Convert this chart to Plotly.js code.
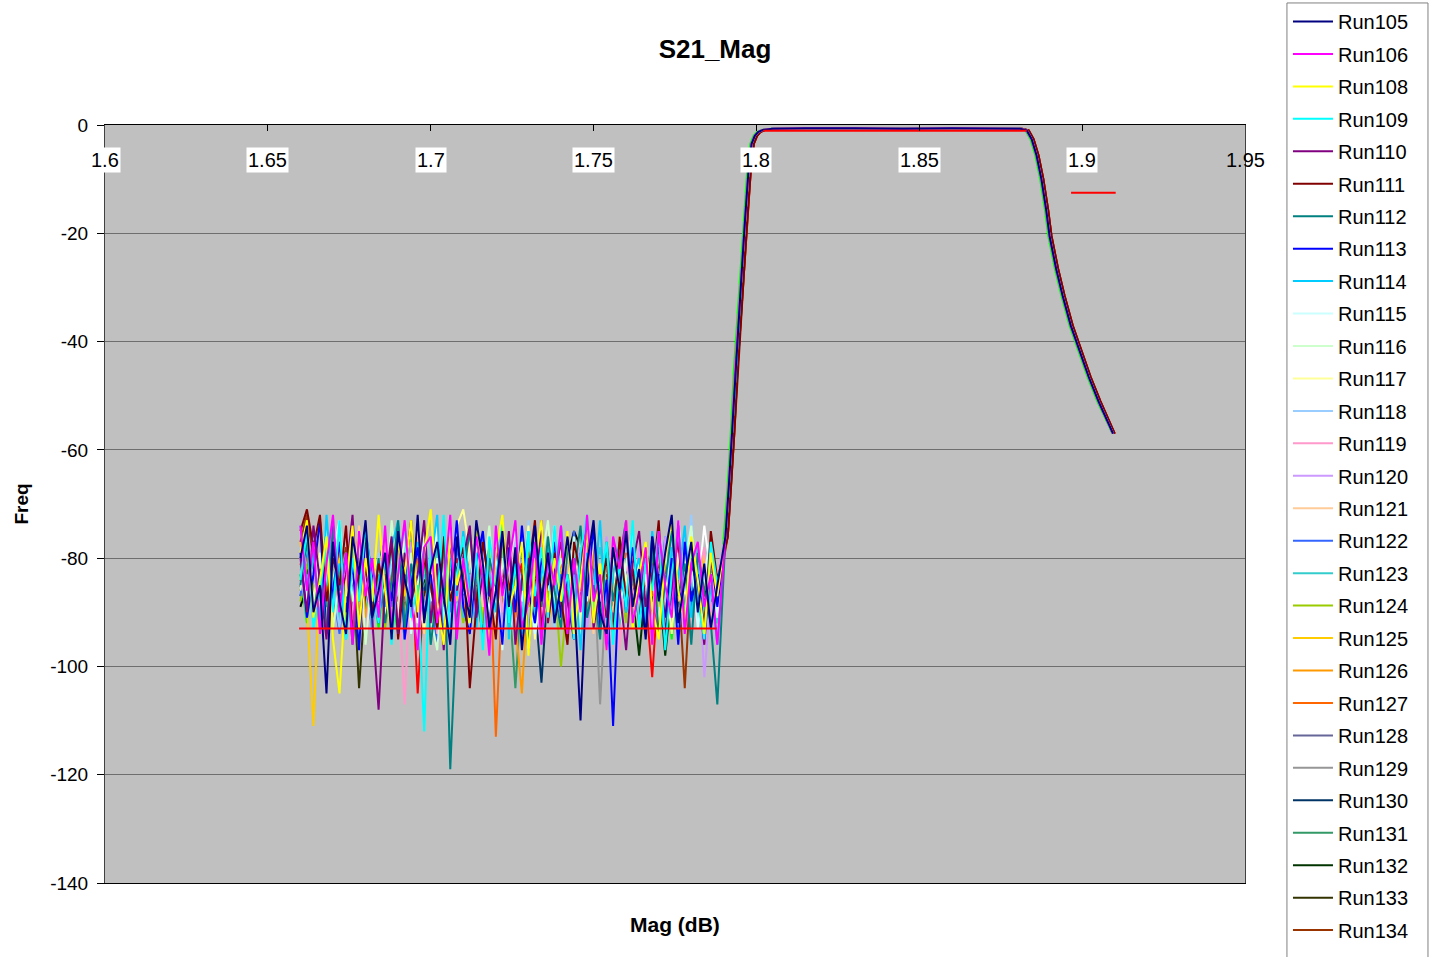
<!DOCTYPE html>
<html>
<head>
<meta charset="utf-8">
<script src="https://cdn.plot.ly/plotly-3.0.1.min.js"></script>
<style>
  html, body { margin: 0; padding: 0; background: #ffffff; }
  #chart { width: 1430px; height: 957px; }
</style>
</head>
<body>
<div id="chart"></div>
<script>
// ---------------- DATA ----------------
const NOISE_F = [1.660,1.662,1.664,1.666,1.668,1.670,1.672,1.674,1.676,1.678,1.680,1.682,1.684,
                 1.686,1.688,1.690,1.692,1.694,1.696,1.698,1.700,1.702,1.704,1.706,1.708,1.710,
                 1.712,1.714,1.716,1.718,1.720,1.722,1.724,1.726,1.728,1.730,1.732,1.734,1.736,
                 1.738,1.740,1.742,1.744,1.746,1.748,1.750,1.752,1.754,1.756,1.758,1.760,1.762,
                 1.764,1.766,1.768,1.770,1.772,1.774,1.776,1.778,1.780,1.782,1.784,1.786,1.788];

const RESP_F_A = [1.7905,1.7915,1.7925,1.7935,1.7945,1.7955,1.7965,1.7975,1.7985,1.7995,1.8005,
                  1.8020,1.8050,1.8150,1.8300,1.8450,1.8600,1.8750,1.8810,1.8830,1.8845,1.8860,
                  1.8875,1.8890,1.8900,1.8920,1.8940,1.8965,1.8990,1.9020,1.9050,1.9095];
const RESP_F_B = [1.7912,1.7922,1.7932,1.7942,1.7952,1.7962,1.7972,1.7982,1.7992,1.8002,1.8012,
                  1.8027,1.8057,1.8150,1.8300,1.8450,1.8600,1.8750,1.8815,1.8836,1.8851,1.8866,
                  1.8881,1.8896,1.8906,1.8926,1.8946,1.8971,1.8996,1.9026,1.9056,1.9100];
const RESP_F_C = [1.7901,1.7911,1.7921,1.7931,1.7941,1.7951,1.7961,1.7971,1.7981,1.7991,1.8001,
                  1.8016,1.8046,1.8150,1.8300,1.8450,1.8600,1.8750,1.8806,1.8826,1.8841,1.8856,
                  1.8871,1.8886,1.8896,1.8916,1.8936,1.8961,1.8986,1.9016,1.9046,1.9093];
const RESP_DB  = [-76,-67,-57,-45,-36,-27,-17.5,-9,-3.5,-2,-1.3,
                  -0.9,-0.7,-0.6,-0.6,-0.7,-0.6,-0.6,-0.7,-1.0,-2.6,-5.6,
                  -10,-15.8,-20.5,-26.5,-31.5,-37,-41.5,-46.5,-51,-57];

const MASK_F  = [1.6596,1.7878,null,1.8021,1.8830,null,1.8966,1.9103];
const MASK_DB = [-93,-93,null,-1.05,-1.05,null,-12.5,-12.5];

const RUN105 = [-80,-74,-90,-85,-105,-77,-88,-94,-76,-83,-73,-91,-86, -79,-95,-75,-84,-89,-72,-92,-82,-77,-87,-96,-76,-85, -91,-73,-81,-93,-86,-75,-89,-78,-97,-84,-74,-88,-79, -92,-85,-76,-87,-110,-81,-73,-90,-94,-78,-86,-75,-89, -82,-95,-76,-88,-79,-72,-92,-84,-77,-90,-81,-93,-85];
const RUN106 = [-74,-86,-77,-94,-81,-72,-90,-79,-96,-75,-87,-80,-91, -74,-93,-83,-73,-88,-97,-78,-76,-92,-85,-72,-95,-80, -89,-76,-84,-98,-74,-87,-81,-73,-93,-88,-77,-96,-79, -85,-74,-94,-80,-90,-72,-88,-83,-97,-76,-82,-73,-92, -86,-78,-96,-75,-85,-91,-73,-94,-81,-77,-89,-83,-96];
const RUN108 = [-79,-73,-91,-84,-76,-95,-105,-85,-74,-93,-80,-88,-72, -86,-94,-77,-83,-73,-90,-79,-71,-88,-96,-76,-85,-80, -92,-74,-83,-95,-79,-72,-89,-85,-77,-98,-81,-73,-90, -80,-88,-75,-94,-84,-74,-92,-81,-97,-78,-86,-73,-93, -83,-77,-89,-95,-80,-73,-86,-92,-76,-84,-94,-79,-87];
const RUN109 = [-84,-75,-93,-86,-77,-90,-73,-95,-80,-88,-74,-85,-92, -79,-96,-82,-74,-91,-85,-112,-77,-88,-72,-94,-83,-76, -90,-79,-97,-76,-85,-73,-92,-81,-94,-75,-87,-78,-91, -74,-88,-83,-95,-79,-72,-90,-85,-77,-96,-81,-89,-73, -93,-80,-86,-75,-97,-83,-74,-91,-78,-88,-95,-77,-85];
const RUN110 = [-80,-90,-74,-85,-95,-77,-88,-83,-72,-93,-81,-91,-108, -85,-76,-94,-79,-88,-83,-73,-92,-81,-97,-77,-86,-80, -74,-91,-83,-93,-78,-86,-75,-96,-84,-80,-89,-73,-92, -83,-77,-88,-95,-80,-74,-93,-85,-91,-78,-86,-97,-81, -75,-89,-83,-78,-94,-86,-74,-92,-81,-85,-96,-80,-87];
const RUN111 = [-75,-71,-78,-72,-88,-80,-85,-74,-94,-82,-76,-91,-81, -86,-77,-95,-83,-73,-91,-80,-85,-93,-76,-88,-82,-78, -104,-89,-77,-85,-95,-74,-86,-80,-92,-83,-73,-93,-84, -79,-88,-96,-77,-83,-74,-91,-86,-80,-94,-76,-88,-82, -92,-78,-85,-73,-95,-83,-77,-90,-80,-86,-93,-75,-84];
const RUN112 = [-85,-77,-91,-82,-94,-74,-86,-79,-96,-83,-75,-90,-80, -92,-84,-73,-93,-81,-88,-78,-96,-86,-76,-119,-91,-83, -75,-87,-94,-80,-85,-74,-92,-83,-78,-97,-81,-89,-76, -86,-93,-78,-83,-74,-91,-85,-95,-77,-88,-80,-73,-92, -83,-89,-78,-94,-85,-75,-87,-81,-96,-79,-86,-92,-107];
const RUN113 = [-79,-91,-83,-73,-94,-86,-77,-90,-81,-97,-75,-84,-92, -80,-88,-74,-95,-85,-78,-91,-83,-93,-76,-86,-73,-89, -94,-81,-75,-87,-84,-96,-78,-90,-74,-86,-92,-80,-85, -77,-91,-83,-95,-79,-87,-74,-93,-84,-111,-81,-89,-78, -86,-94,-76,-84,-91,-80,-96,-77,-88,-83,-93,-79,-89];
const RUN114 = [-74,-85,-79,-92,-72,-87,-81,-95,-77,-86,-75,-93,-83, -89,-78,-73,-94,-84,-77,-91,-81,-72,-96,-80,-87,-75, -85,-93,-77,-83,-90,-73,-95,-80,-86,-75,-92,-83,-78, -91,-74,-86,-81,-97,-79,-87,-73,-93,-83,-77,-90,-84, -80,-92,-75,-86,-95,-78,-84,-74,-91,-81,-94,-85,-96];
const RUN115 = [-80,-88,-75,-85,-93,-79,-73,-90,-83,-95,-77,-86,-81, -91,-78,-85,-74,-94,-83,-77,-88,-80,-92,-73,-86,-81, -93,-77,-83,-90,-79,-97,-81,-75,-88,-84,-94,-78,-86, -74,-91,-83,-93,-80,-88,-76,-85,-95,-79,-90,-81,-75, -88,-83,-94,-77,-85,-91,-73,-86,-80,-93,-83,-76,-90];
const RUN116 = [-86,-77,-91,-81,-74,-93,-84,-79,-88,-75,-96,-83,-80, -89,-73,-85,-94,-79,-86,-76,-91,-97,-81,-88,-75,-84, -79,-92,-83,-74,-90,-80,-95,-86,-77,-85,-93,-81,-73, -88,-80,-85,-76,-94,-83,-74,-91,-86,-79,-89,-96,-81, -75,-88,-83,-92,-79,-86,-94,-81,-74,-90,-84,-78,-91];
const RUN117 = [-84,-76,-88,-79,-92,-85,-74,-87,-80,-94,-77,-90,-82, -86,-79,-91,-75,-85,-73,-93,-81,-88,-77,-84,-74,-71, -79,-88,-83,-94,-76,-85,-91,-80,-87,-74,-95,-83,-78, -90,-77,-85,-81,-92,-74,-87,-93,-80,-88,-76,-84,-91, -81,-89,-77,-86,-83,-94,-79,-88,-75,-85,-92,-80,-86];
const RUN118 = [-78,-87,-82,-91,-74,-85,-93,-80,-88,-83,-73,-92,-79, -88,-81,-94,-77,-86,-91,-75,-85,-80,-96,-78,-90,-83, -74,-88,-81,-92,-79,-85,-94,-77,-87,-73,-91,-83,-80, -93,-85,-77,-90,-81,-87,-75,-95,-79,-88,-83,-74,-91, -80,-92,-84,-78,-88,-75,-94,-83,-72,-90,-81,-86,-91];
const RUN119 = [-82,-90,-76,-86,-93,-79,-85,-74,-91,-83,-95,-80,-88, -77,-92,-85,-107,-81,-75,-90,-83,-94,-78,-86,-91,-80, -88,-78,-85,-95,-76,-90,-83,-74,-93,-86,-80,-91,-84, -75,-88,-81,-94,-84,-78,-92,-83,-90,-76,-97,-81,-86, -91,-80,-86,-76,-93,-83,-88,-75,-95,-84,-78,-90,-83];
const RUN120 = [-85,-77,-90,-81,-93,-75,-86,-80,-91,-83,-74,-94,-84, -78,-88,-83,-95,-77,-86,-91,-80,-85,-74,-93,-81,-89, -83,-92,-78,-86,-75,-94,-84,-81,-90,-76,-88,-96,-80, -86,-75,-91,-83,-78,-93,-84,-88,-76,-95,-81,-86,-91, -78,-89,-83,-93,-76,-86,-81,-91,-84,-79,-102,-87,-83];
const RUN121 = [-80,-86,-75,-91,-83,-77,-88,-81,-93,-74,-85,-90,-79, -88,-80,-92,-83,-74,-86,-94,-78,-84,-91,-76,-83,-88, -81,-75,-89,-84,-93,-80,-86,-77,-95,-83,-88,-79,-91, -84,-92,-78,-87,-75,-83,-94,-81,-86,-90,-76,-84,-80, -89,-83,-93,-78,-86,-75,-91,-84,-80,-88,-81,-92,-84];
const RUN122 = [-87,-78,-91,-83,-74,-86,-94,-81,-89,-76,-85,-93,-80, -77,-89,-84,-95,-80,-87,-75,-86,-96,-83,-90,-78,-85, -81,-88,-76,-93,-84,-80,-91,-83,-86,-97,-79,-89,-83, -91,-83,-86,-75,-94,-81,-88,-84,-78,-92,-83,-90,-80, -86,-93,-81,-87,-76,-91,-84,-80,-89,-83,-94,-78,-86];
const RUN123 = [-83,-91,-78,-87,-85,-74,-92,-81,-86,-94,-77,-84,-90, -87,-80,-84,-93,-75,-89,-83,-86,-78,-92,-84,-81,-91, -89,-77,-86,-83,-93,-75,-87,-80,-91,-84,-77,-95,-83, -86,-92,-81,-87,-75,-91,-84,-78,-86,-83,-93,-80,-89, -83,-91,-79,-87,-76,-84,-94,-81,-86,-78,-90,-84,-92];
const RUN124 = [-88,-81,-85,-93,-78,-87,-83,-92,-76,-84,-80,-91,-85, -93,-84,-87,-77,-89,-81,-94,-78,-86,-91,-80,-84,-92, -87,-82,-92,-78,-89,-84,-95,-81,-86,-77,-91,-83,-87, -84,-100,-87,-80,-91,-83,-85,-93,-78,-89,-84,-92,-81, -87,-79,-91,-84,-93,-81,-87,-78,-90,-85,-82,-92,-84];
const RUN125 = [-77,-89,-111,-83,-75,-88,-80,-93,-78,-86,-73,-91,-81, -84,-92,-78,-87,-83,-75,-94,-81,-90,-84,-76,-88,-80, -86,-78,-91,-83,-87,-76,-93,-81,-86,-89,-78,-84,-92, -87,-83,-76,-91,-84,-80,-89,-86,-78,-93,-83,-87,-81, -90,-84,-78,-89,-83,-87,-76,-92,-81,-86,-79,-91,-85];
const RUN126 = [-84,-77,-89,-81,-86,-93,-78,-87,-83,-75,-91,-84,-80, -81,-88,-76,-86,-92,-83,-79,-90,-84,-76,-88,-81,-91, -80,-86,-83,-90,-78,-87,-81,-92,-105,-84,-89,-79,-86, -91,-78,-86,-83,-89,-76,-87,-81,-92,-84,-79,-89,-83, -86,-80,-91,-78,-87,-84,-76,-90,-83,-86,-79,-91,-87];
const RUN127 = [-86,-79,-91,-83,-87,-76,-89,-84,-80,-92,-78,-87,-83, -88,-83,-78,-90,-86,-80,-91,-79,-84,-93,-77,-87,-83, -80,-89,-84,-78,-113,-86,-81,-91,-84,-78,-87,-92,-81, -84,-90,-79,-86,-83,-91,-78,-87,-81,-85,-93,-79,-84, -89,-83,-87,-79,-85,-91,-81,-84,-77,-89,-83,-86,-84];
const RUN128 = [-87,-83,-89,-81,-85,-88,-82,-86,-84,-80,-87,-83,-90, -84,-86,-81,-88,-84,-82,-89,-85,-80,-87,-83,-86,-82, -86,-84,-88,-82,-85,-81,-87,-83,-89,-85,-82,-88,-84, -83,-87,-81,-86,-84,-89,-82,-85,-80,-88,-84,-86,-83, -88,-84,-81,-86,-83,-87,-85,-82,-89,-84,-86,-83,-87];
const RUN129 = [-82,-86,-80,-84,-88,-81,-85,-83,-87,-79,-85,-89,-82, -81,-87,-84,-80,-86,-82,-89,-83,-85,-81,-88,-84,-86, -84,-80,-87,-83,-85,-82,-88,-81,-86,-84,-80,-87,-83, -87,-82,-85,-81,-88,-84,-80,-107,-85,-82,-86,-83,-88, -81,-86,-84,-88,-80,-85,-83,-87,-82,-89,-84,-81,-86];
const RUN130 = [-86,-83,-88,-84,-81,-87,-85,-82,-89,-84,-86,-83,-88, -83,-87,-85,-81,-88,-84,-86,-82,-87,-85,-83,-89,-84, -88,-84,-86,-82,-89,-85,-83,-87,-84,-81,-88,-103,-85, -82,-87,-84,-88,-83,-86,-81,-89,-85,-83,-87,-84,-86, -84,-88,-82,-86,-85,-83,-89,-84,-87,-82,-86,-85,-88];
const RUN131 = [-83,-87,-81,-85,-89,-82,-86,-84,-80,-88,-83,-85,-87, -86,-82,-87,-84,-81,-88,-85,-83,-89,-82,-86,-84,-80, -85,-88,-83,-86,-84,-81,-87,-104,-85,-82,-88,-84,-86, -83,-86,-89,-82,-85,-87,-81,-88,-84,-86,-83,-85,-88, -82,-87,-84,-86,-81,-88,-85,-83,-87,-84,-86,-82,-85];
const RUN132 = [-85,-89,-83,-87,-84,-88,-82,-86,-90,-84,-87,-83,-86, -83,-88,-85,-89,-82,-87,-84,-86,-90,-83,-88,-85,-87, -85,-87,-82,-89,-84,-86,-88,-83,-87,-85,-89,-84,-86, -84,-88,-83,-86,-89,-85,-82,-87,-84,-88,-86,-83,-87, -98,-85,-88,-84,-98,-86,-83,-87,-85,-89,-84,-86,-88];
const RUN133 = [-86,-82,-88,-84,-87,-83,-89,-85,-81,-104,-86,-84,-88, -84,-88,-86,-83,-89,-85,-87,-82,-88,-86,-84,-89,-85, -87,-85,-89,-83,-86,-88,-84,-87,-85,-89,-83,-86,-88, -86,-88,-84,-87,-85,-89,-83,-86,-88,-84,-87,-85,-89, -85,-87,-84,-88,-86,-83,-89,-85,-87,-84,-88,-86,-87];
const RUN134 = [-77,-72,-80,-85,-79,-87,-83,-78,-86,-84,-81,-88,-82, -87,-82,-85,-80,-88,-84,-81,-86,-83,-89,-82,-85,-80, -85,-81,-87,-83,-86,-80,-88,-84,-82,-87,-85,-81,-86, -83,-88,-81,-86,-84,-89,-82,-85,-83,-87,-80,-86,-84, -88,-83,-86,-81,-85,-87,-84,-104,-82,-86,-83,-85,-87];
// further runs whose legend entries are cut off in the reference
const RUN_X1 = [-84,-88,-81,-86,-83,-89,-85,-82,-87,-84,-80,-88,-85, -88,-83,-86,-81,-87,-84,-89,-82,-85,-87,-83,-86,-84, -86,-81,-88,-84,-87,-83,-85,-89,-82,-86,-84,-88,-85, -87,-82,-85,-89,-83,-86,-81,-88,-84,-85,-87,-83,-86, -85,-88,-83,-86,-82,-87,-84,-89,-85,-83,-86,-88,-84];
const RUN_X2 = [-87,-83,-85,-89,-82,-86,-84,-88,-81,-85,-87,-84,-86, -84,-89,-82,-86,-88,-83,-85,-87,-81,-89,-84,-86,-83, -86,-83,-88,-85,-81,-87,-84,-89,-83,-86,-82,-88,-85, -88,-84,-86,-82,-87,-85,-89,-83,-86,-84,-88,-82,-86, -85,-89,-83,-87,-84,-86,-82,-88,-85,-83,-87,-84,-86];
const RUN_X3 = [-89,-85,-87,-83,-88,-86,-84,-90,-85,-87,-83,-88,-86, -88,-84,-86,-89,-83,-87,-85,-81,-88,-84,-86,-83,-87, -85,-88,-83,-86,-89,-84,-87,-82,-86,-88,-84,-87,-85, -83,-86,-80,-75,-78,-84,-88,-83,-86,-89,-84,-87,-85, -87,-84,-88,-83,-86,-85,-89,-84,-87,-83,-86,-88,-85];
const RUN_X4 = [-86,-78,-90,-83,-76,-88,-84,-93,-80,-86,-77,-91,-83, -89,-84,-76,-88,-81,-92,-78,-86,-74,-90,-83,-79,-88, -78,-88,-84,-76,-92,-81,-86,-83,-90,-77,-88,-84,-80, -84,-92,-79,-86,-76,-90,-83,-88,-78,-84,-93,-81,-86, -83,-90,-79,-86,-76,-88,-81,-92,-78,-86,-74,-83,-88];
const RUN_X5 = [-81,-85,-78,-87,-83,-79,-86,-82,-88,-84,-80,-86,-83, -86,-82,-88,-84,-79,-105,-85,-81,-87,-83,-86,-80,-84, -83,-86,-80,-87,-84,-82,-89,-85,-81,-87,-83,-85,-82, -85,-81,-88,-83,-86,-80,-87,-84,-82,-86,-83,-88,-84, -81,-87,-102,-84,-86,-82,-85,-83,-88,-81,-86,-84,-85];
const RUN_X6 = [-83,-92,-79,-89,-76,-85,-91,-82,-88,-78,-90,-84,-93, -81,-87,-94,-78,-85,-90,-80,-92,-84,-76,-88,-82,-91, -92,-80,-86,-82,-94,-77,-87,-84,-90,-79,-85,-93,-81, -77,-90,-84,-95,-81,-88,-79,-86,-93,-83,-90,-80,-87, -85,-92,-79,-88,-84,-95,-81,-90,-77,-85,-92,-83,-92];

const SERIES_NAMES = ['Run105','Run106','Run108','Run109','Run110','Run111','Run112','Run113','Run114','Run115',
                      'Run116','Run117','Run118','Run119','Run120','Run121','Run122','Run123','Run124','Run125',
                      'Run126','Run127','Run128','Run129','Run130','Run131','Run132','Run133','Run134'];
const SERIES_NOISE = [RUN105,RUN106,RUN108,RUN109,RUN110,RUN111,RUN112,RUN113,RUN114,RUN115,
                      RUN116,RUN117,RUN118,RUN119,RUN120,RUN121,RUN122,RUN123,RUN124,RUN125,
                      RUN126,RUN127,RUN128,RUN129,RUN130,RUN131,RUN132,RUN133,RUN134];
const EXTRA_NOISE = [RUN_X1,RUN_X2,RUN_X3,RUN_X4,RUN_X5,RUN_X6];

const XTICK_VALS = [1.6,1.65,1.7,1.75,1.8,1.85,1.9,1.95];
const XTICK_TEXT = ['1.6','1.65','1.7','1.75','1.8','1.85','1.9','1.95'];
const YTICK_VALS = [0,-20,-40,-60,-80,-100,-120,-140];
const YTICK_TEXT = ['0','-20','-40','-60','-80','-100','-120','-140'];

// ---------------- STYLE ----------------
const SERIES_COLORS = ['#000080','#FF00FF','#FFFF00','#00FFFF','#800080','#800000','#008080','#0000FF','#00CCFF','#CCFFFF',
                       '#CCFFCC','#FFFF99','#99CCFF','#FF99CC','#CC99FF','#FFCC99','#3366FF','#33CCCC','#99CC00','#FFCC00',
                       '#FF9900','#FF6600','#666699','#969696','#003366','#339966','#003300','#333300','#993300'];
const EXTRA_COLORS = ['#993366','#333399','#000000','#FFFFFF','#FF0000','#00FF00'];

const FONT = 'Liberation Sans, Arial, sans-serif';
const traces = [];
// later runs first (underneath), first runs last (on top), legend kept in run order
EXTRA_NOISE.forEach((arr, k) => {
  const col = EXTRA_COLORS[k];
  const rf = col === '#FF0000' ? RESP_F_B : (col === '#00FF00' ? RESP_F_C : RESP_F_A);
  traces.push({
    type: 'scatter', mode: 'lines', showlegend: false,
    x: NOISE_F.concat(rf), y: arr.concat(RESP_DB),
    line: {color: col, width: 2}
  });
});
for (let k = SERIES_NAMES.length - 1; k >= 0; k--) {
  const name = SERIES_NAMES[k];
  const rf = (name === 'Run111' || name === 'Run134') ? RESP_F_B : RESP_F_A;
  traces.push({
    type: 'scatter', mode: 'lines', name: name, legendgroup: name, legendrank: k + 1,
    x: NOISE_F.concat(rf), y: SERIES_NOISE[k].concat(RESP_DB),
    line: {color: SERIES_COLORS[k], width: 2}
  });
}
traces.push({
  type: 'scatter', mode: 'lines', showlegend: false,
  x: MASK_F, y: MASK_DB, line: {color: '#FF0000', width: 2}
});

const annotations = XTICK_VALS.map((v, i) => ({
  x: v, y: 0, xref: 'x', yref: 'y', text: XTICK_TEXT[i], showarrow: false,
  yanchor: 'top', xanchor: 'center', yshift: -22, borderpad: 1,
  bgcolor: i === XTICK_VALS.length - 1 ? 'rgba(0,0,0,0)' : '#ffffff',
  font: {family: FONT, size: 20, color: '#000000'}
}));
annotations.push({
  x: 0.5, y: -0.0554, xref: 'paper', yref: 'paper', text: '<b>Mag (dB)</b>', showarrow: false,
  xanchor: 'center', yanchor: 'middle', font: {family: FONT, size: 21, color: '#000000'}
});

const layout = {
  width: 1430, height: 957,
  margin: {l: 105, r: 185, t: 125, b: 74, autoexpand: false},
  paper_bgcolor: '#ffffff', plot_bgcolor: '#C0C0C0',
  font: {family: FONT, size: 20, color: '#000000'},
  title: {text: '<b>S21_Mag</b>', x: 0.5, xref: 'container', y: 1 - 49/957, yref: 'container',
          xanchor: 'center', yanchor: 'middle', font: {family: FONT, size: 26, color: '#000000'}},
  showlegend: true,
  legend: {
    x: 1.0377, y: 1.1623, xanchor: 'left', yanchor: 'top',
    bgcolor: 'rgba(0,0,0,0)', borderwidth: 0,
    font: {family: FONT, size: 20, color: '#000000'},
    tracegroupgap: 3.45, itemwidth: 40, traceorder: 'grouped', maxheight: 960
  },
  // legend frame (runs past the bottom of the page, as in the reference)
  shapes: [{
    type: 'rect', xref: 'paper', yref: 'paper', layer: 'below',
    x0: 1.0368, x1: 1.1605, y0: -0.12, y1: 1.1610,
    line: {color: '#808080', width: 1}, fillcolor: '#ffffff'
  }],
  xaxis: {
    range: [1.6, 1.95], side: 'top', showticklabels: false,
    tickvals: XTICK_VALS, ticks: 'inside', ticklen: 6, tickcolor: '#000000',
    showline: true, linecolor: '#000000', linewidth: 1, mirror: true,
    showgrid: false, zeroline: false
  },
  yaxis: {
    range: [-140, 0], tickvals: YTICK_VALS, ticktext: YTICK_TEXT,
    ticks: 'outside', ticklen: 7, tickcolor: '#000000', ticklabelstandoff: 5,
    tickfont: {family: FONT, size: 19, color: '#000000'},
    showline: true, linecolor: '#404040', linewidth: 1, mirror: true,
    showgrid: true, gridcolor: '#6E6E6E', gridwidth: 1, zeroline: false,
    title: {text: '<b>Freq</b>', standoff: 16, font: {family: FONT, size: 19, color: '#000000'}}
  },
  annotations: annotations
};

Plotly.newPlot('chart', traces, layout, {displayModeBar: false, staticPlot: true});
</script>
</body>
</html>
